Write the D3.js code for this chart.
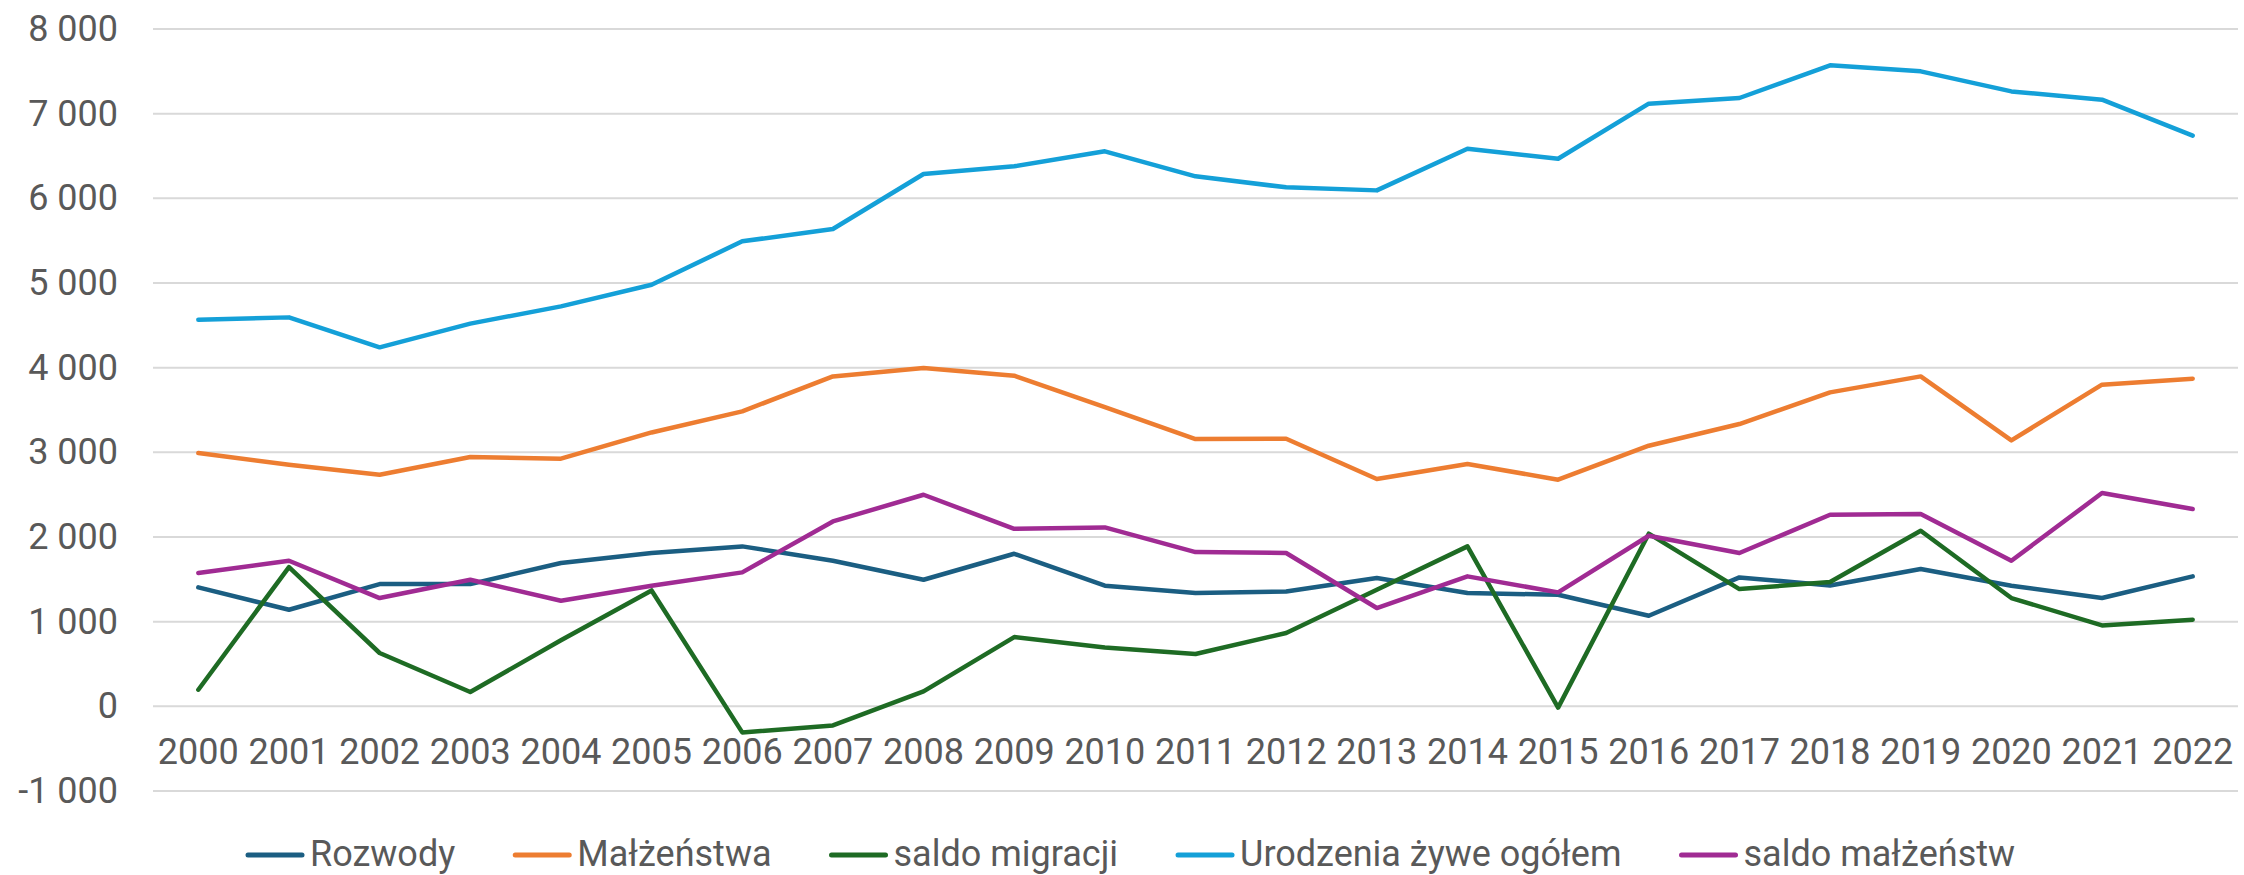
<!DOCTYPE html>
<html>
<head>
<meta charset="utf-8">
<script src="https://cdn.jsdelivr.net/npm/d3@7"></script>
<style>
  html, body { margin: 0; padding: 0; background: #fff; }
  svg { display: block; font-family: Roboto, "Noto Sans", sans-serif; }
</style>
</head>
<body>
<svg id="chart" width="2244" height="875"></svg>
<script>
const years = d3.range(2000, 2023).map(String);

const rozwody = [1405, 1141, 1444, 1444, 1693, 1811, 1889, 1720, 1495, 1802, 1425, 1338,
  1357, 1515, 1338, 1318, 1070, 1523, 1428, 1622, 1425, 1279, 1535];
const malzenstwa = [2992, 2854, 2736, 2945, 2925, 3235, 3484, 3897, 3996, 3905, 3535, 3157,
  3160, 2685, 2862, 2677, 3078, 3334, 3708, 3897, 3141, 3799, 3870];
const saldoMigracji = [196, 1645, 630, 169, 780, 1369, -308, -226, 176, 818, 696, 618,
  866, 1377, 1889, -15, 2039, 1385, 1468, 2074, 1279, 956, 1023];
const urodzenia = [4566, 4594, 4240, 4520, 4724, 4980, 5492, 5638, 6287, 6378, 6555, 6260,
  6130, 6094, 6586, 6468, 7118, 7185, 7571, 7500, 7263, 7165, 6740];
const saldoMalzenstw = [1574, 1720, 1279, 1495, 1247, 1425, 1582, 2184, 2499, 2097, 2113, 1822,
  1811, 1161, 1535, 1346, 2015, 1811, 2263, 2271, 1720, 2519, 2330];

const seriesNames = ["Rozwody", "Małżeństwa", "saldo migracji", "Urodzenia żywe ogółem", "saldo małżeństw"];
const seriesValues = [rozwody, malzenstwa, saldoMigracji, urodzenia, saldoMalzenstw];
const seriesColors = ["#1b5e82", "#ed7d31", "#1e6b24", "#14a0d8", "#a02b93"];
const yTicks = [-1000, 0, 1000, 2000, 3000, 4000, 5000, 6000, 7000, 8000];

const svg = d3.select("#chart");
const textColor = "#595959",
  gridColor = "#d9d9d9",
  fontSize = 36;

const x = d3.scaleBand().domain(years).range([153, 2238]);
const y = d3.scaleLinear().domain([-1000, 8000]).range([791, 29]);

const locale = d3.formatLocale({ decimal: ",", thousands: "\u00a0", grouping: [3], currency: ["", " zł"], minus: "-" });
const fmt = locale.format(",d");

// gridlines
svg.append("g")
  .attr("class", "grid")
  .selectAll("line")
  .data(yTicks)
  .join("line")
  .attr("x1", x.range()[0])
  .attr("x2", x.range()[1])
  .attr("y1", d => y(d))
  .attr("y2", d => y(d))
  .attr("stroke", gridColor)
  .attr("stroke-width", 2);

// y axis labels
const yAxis = svg.append("g")
  .attr("transform", "translate(118,0)")
  .call(d3.axisLeft(y).tickValues(yTicks).tickFormat(fmt).tickSize(0).tickPadding(0));
yAxis.select(".domain").remove();
yAxis.selectAll("text")
  .attr("font-family", "Roboto, sans-serif")
  .attr("font-size", fontSize)
  .attr("fill", textColor)
  .attr("dy", "0.32em");

// x axis labels (sit just below zero line)
const xAxis = svg.append("g")
  .attr("transform", `translate(0,${y(0)})`)
  .call(d3.axisBottom(x).tickSize(0).tickPadding(0));
xAxis.select(".domain").remove();
xAxis.selectAll("text")
  .attr("font-family", "Roboto, sans-serif")
  .attr("font-size", fontSize)
  .attr("fill", textColor)
  .attr("dy", null)
  .attr("y", 58);

// series lines
const line = d3.line()
  .x((d, i) => x(years[i]) + x.bandwidth() / 2)
  .y(d => y(d));

svg.append("g")
  .attr("class", "series")
  .selectAll("path")
  .data(seriesValues)
  .join("path")
  .attr("d", d => line(d))
  .attr("fill", "none")
  .attr("stroke", (d, i) => seriesColors[i])
  .attr("stroke-width", 4.5)
  .attr("stroke-linejoin", "round")
  .attr("stroke-linecap", "round");

// legend
const legend = svg.append("g").attr("class", "legend");
let lx = 248;
const ly = 855;
seriesNames.forEach((name, i) => {
  const g = legend.append("g").attr("transform", `translate(${lx},${ly})`);
  g.append("line")
    .attr("x1", 0).attr("x2", 54)
    .attr("stroke", seriesColors[i])
    .attr("stroke-width", 5)
    .attr("stroke-linecap", "round");
  const t = g.append("text")
    .text(name)
    .attr("x", 62)
    .attr("y", 11)
    .attr("font-size", fontSize)
    .attr("fill", textColor);
  const w = t.node().getComputedTextLength();
  lx += 62 + w + 60;
});
</script>
</body>
</html>
